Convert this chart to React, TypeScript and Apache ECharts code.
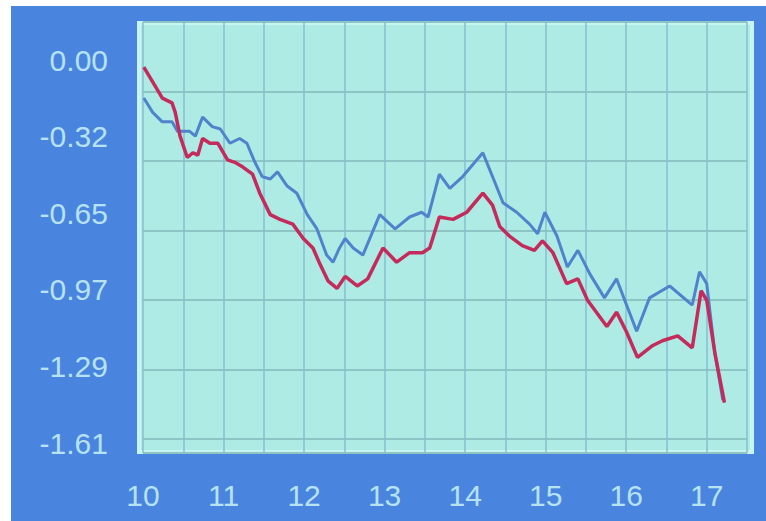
import React, { useEffect, useRef } from "react";
import * as echarts from "echarts";

const xTickLabels = ["10", "11", "12", "13", "14", "15", "16", "17"];
const yTickLabels = ["0.00", "-0.32", "-0.65", "-0.97", "-1.29", "-1.61"];

const redX = [10.01, 10.17, 10.24, 10.36, 10.4, 10.46, 10.55, 10.62, 10.68, 10.74, 10.83, 10.93, 11.05, 11.14, 11.24, 11.36, 11.45, 11.58, 11.7, 11.86, 11.99, 12.11, 12.2, 12.3, 12.41, 12.51, 12.66, 12.79, 12.98, 13.15, 13.31, 13.47, 13.56, 13.68, 13.85, 14.02, 14.22, 14.34, 14.43, 14.55, 14.71, 14.86, 14.96, 15.09, 15.26, 15.4, 15.52, 15.76, 15.88, 16.0, 16.14, 16.33, 16.45, 16.64, 16.82, 16.93, 17.0, 17.1, 17.22];
const redY = [-0.03, -0.12, -0.16, -0.18, -0.22, -0.32, -0.41, -0.39, -0.4, -0.33, -0.35, -0.35, -0.42, -0.43, -0.45, -0.48, -0.56, -0.65, -0.67, -0.69, -0.75, -0.79, -0.86, -0.93, -0.96, -0.91, -0.95, -0.92, -0.79, -0.85, -0.81, -0.81, -0.79, -0.66, -0.67, -0.64, -0.56, -0.61, -0.7, -0.74, -0.78, -0.8, -0.76, -0.81, -0.94, -0.92, -1.01, -1.12, -1.06, -1.14, -1.25, -1.2, -1.18, -1.16, -1.21, -0.97, -1.01, -1.23, -1.44];

const blueX = [10.01, 10.12, 10.24, 10.36, 10.43, 10.58, 10.65, 10.74, 10.86, 10.96, 11.08, 11.2, 11.29, 11.39, 11.48, 11.58, 11.67, 11.79, 11.91, 12.04, 12.16, 12.28, 12.36, 12.44, 12.51, 12.61, 12.73, 12.94, 13.13, 13.31, 13.46, 13.54, 13.68, 13.81, 13.97, 14.22, 14.34, 14.47, 14.64, 14.8, 14.9, 14.99, 15.14, 15.27, 15.4, 15.55, 15.73, 15.88, 16.13, 16.29, 16.54, 16.82, 16.91, 17.0, 17.1, 17.2];
const blueY = [-0.16, -0.22, -0.26, -0.26, -0.3, -0.3, -0.32, -0.24, -0.28, -0.29, -0.35, -0.33, -0.35, -0.43, -0.49, -0.5, -0.47, -0.53, -0.56, -0.65, -0.71, -0.82, -0.85, -0.79, -0.75, -0.79, -0.82, -0.65, -0.71, -0.66, -0.64, -0.66, -0.48, -0.54, -0.49, -0.39, -0.49, -0.6, -0.64, -0.69, -0.73, -0.64, -0.74, -0.87, -0.8, -0.9, -1.0, -0.92, -1.14, -1.0, -0.95, -1.03, -0.89, -0.94, -1.23, -1.43];

const Y_STEP = 0.322;

export default function App() {
  const ref = useRef<HTMLDivElement>(null);

  useEffect(() => {
    if (!ref.current) return;
    const chart = echarts.init(ref.current, null, { renderer: "svg" });
    const font = "'Liberation Sans', Arial, sans-serif";
    const labelColor = "#b6e2f2";
    chart.setOption({
      animation: false,
      backgroundColor: "#ffffff",
      graphic: [
        {
          type: "rect",
          z: -10,
          shape: { x: 11, y: 6, width: 755, height: 515 },
          style: { fill: "#4985df" },
          silent: true,
        },
        {
          type: "rect",
          z: -9,
          shape: { x: 139, y: 23, width: 613, height: 429 },
          style: { fill: "#afebe5", stroke: "#c9f5f0", lineWidth: 4 },
          silent: true,
        },
      ],
      grid: [
        { left: 143, right: 19, top: 60, bottom: 78 },
        { left: 143, right: 19, top: 22, bottom: 68 },
      ],
      xAxis: [
        {
          type: "value",
          gridIndex: 0,
          min: 10,
          max: 17.5,
          interval: 1,
          axisLine: { show: false },
          axisTick: { show: false },
          splitLine: { show: false },
          axisLabel: {
            show: true,
            margin: 37,
            color: labelColor,
            fontSize: 30,
            fontFamily: font,
            showMaxLabel: false,
            formatter: (v: number) => {
              const i = Math.round(v - 10);
              return Math.abs(v - Math.round(v)) < 1e-6 && xTickLabels[i] ? xTickLabels[i] : "";
            },
          },
        },
        {
          type: "value",
          gridIndex: 1,
          min: 10,
          max: 17.5,
          interval: 0.5,
          axisLine: { show: false },
          axisTick: { show: false },
          axisLabel: { show: false },
          splitLine: { show: true, lineStyle: { color: "#86bfd2", width: 1.5 } },
        },
      ],
      yAxis: [
        {
          type: "value",
          gridIndex: 0,
          min: -1.61,
          max: 0,
          interval: Y_STEP,
          axisLine: { show: false },
          axisTick: { show: false },
          splitLine: { show: false },
          axisLabel: {
            margin: 35,
            color: labelColor,
            fontSize: 30,
            fontFamily: font,
            formatter: (v: number) => yTickLabels[Math.round(-v / Y_STEP)] ?? "",
          },
        },
        {
          type: "value",
          gridIndex: 1,
          min: 0,
          max: 431,
          interval: 69.5,
          inverse: true,
          axisLine: { show: false },
          axisTick: { show: false },
          axisLabel: { show: false },
          splitLine: { show: true, lineStyle: { color: "#8cc5c4", width: 2 } },
        },
      ],
      series: [
        {
          type: "line",
          xAxisIndex: 0,
          yAxisIndex: 0,
          showSymbol: false,
          data: blueX.map((x, i) => [x, blueY[i]]),
          lineStyle: { color: "#4f83cc", width: 3 },
          itemStyle: { color: "#4f83cc" },
        },
        {
          type: "line",
          xAxisIndex: 0,
          yAxisIndex: 0,
          showSymbol: false,
          data: redX.map((x, i) => [x, redY[i]]),
          lineStyle: { color: "#c42a5a", width: 3.5 },
          itemStyle: { color: "#c42a5a" },
        },
      ],
    });
    return () => chart.dispose();
  }, []);

  return (
    <div
      ref={ref}
      style={{ position: "fixed", left: 0, top: 0, width: 766, height: 521 }}
    />
  );
}
